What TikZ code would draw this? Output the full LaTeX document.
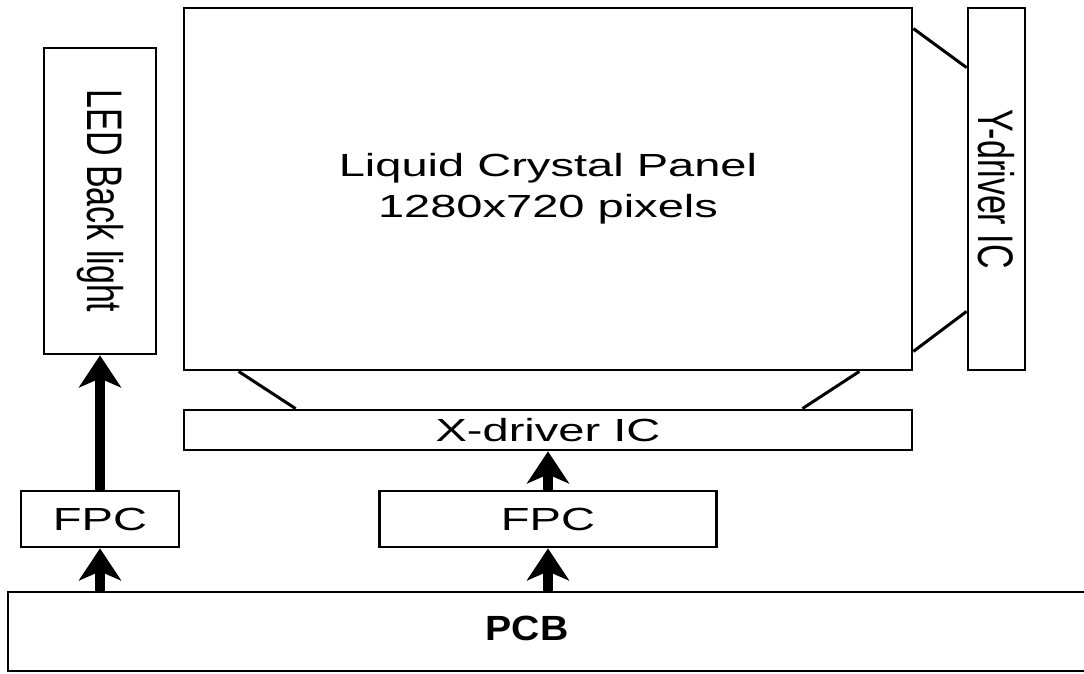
\documentclass[tikz,border=0pt]{standalone}
\usepackage{fontspec}
\setmainfont{Liberation Sans}
\usetikzlibrary{arrows.meta}
\newcommand{\wide}[1]{\scalebox{1.47}[1]{#1}}
\newcommand{\tall}[1]{\rotatebox{-90}{\scalebox{1}[1.47]{#1}}}

\begin{document}
\begin{tikzpicture}[x=1pt, y=-1pt,
  box/.style={draw, line width=2.8pt, inner sep=0pt, align=center,
    font=\fontsize{32}{41}\selectfont},
  upright/.style={font=\fontsize{34}{40}\selectfont},
  feed/.style={-{Stealth[length=32pt,width=42pt,inset=9pt]}, line width=10pt},
  tie/.style={line width=3pt}]
  \useasboundingbox (0,0) rectangle (1084,673);
  \clip (0,0) rectangle (1084,673);
  % boxes
  \node[box, upright, minimum width=112, minimum height=306] (led) at (100,201) {\tall{LED Back light}};
  \node[box, minimum width=728, minimum height=362] (panel) at (548,189)
    {\wide{Liquid Crystal Panel}\\\wide{1280x720 pixels}};
  \node[box, upright, minimum width=57, minimum height=362] (ydrv) at (996.5,189) {\tall{Y-driver IC}};
  \node[box, minimum width=728, minimum height=40] (xdrv) at (548,430) {\wide{X-driver IC}};
  \node[box, minimum width=158, minimum height=56] (fpcL) at (100,519) {\wide{FPC}};
  \node[box, minimum width=337, minimum height=56] (fpcM) at (548,519) {\wide{FPC}};
  \node[box, minimum width=1092, minimum height=79] (pcb) at (554,631.5) {};
  \node[font=\bfseries\fontsize{35}{40}\selectfont] (pcbtext) at (527,628) {\scalebox{1.12}[1]{PCB}};
  % driver leads
  \draw[tie] ([xshift=56pt]panel.south west) -- ([xshift=113pt]xdrv.north west);
  \draw[tie] ([xshift=-54pt]panel.south east) -- ([xshift=-111pt]xdrv.north east);
  \draw[tie] ([yshift=-22pt]panel.north east) -- ([yshift=-61pt]ydrv.north west);
  \draw[tie] ([yshift=20pt]panel.south east) -- ([yshift=60pt]ydrv.south west);
  % signal paths
  \draw[feed] (fpcL.north) -- (led.south);
  \draw[feed] (fpcM.north) -- (fpcM.north |- xdrv.south);
  \draw[feed] (fpcL.south |- pcb.north) -- (fpcL.south);
  \draw[feed] (fpcM.south |- pcb.north) -- (fpcM.south);
\end{tikzpicture}
\end{document}
